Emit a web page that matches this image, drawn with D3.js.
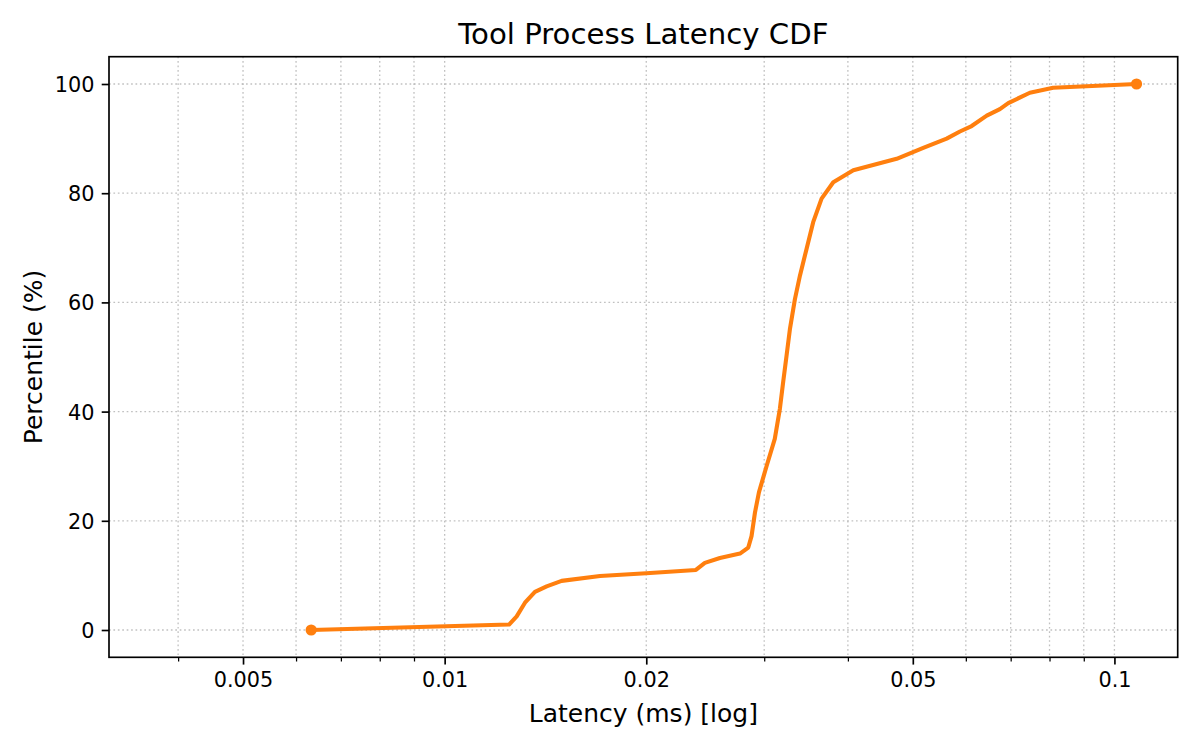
<!DOCTYPE html>
<html>
<head>
<meta charset="utf-8">
<script src="https://cdn.jsdelivr.net/npm/d3@7"></script>
<style>
  html, body { margin: 0; padding: 0; background: #ffffff; }
  svg { display: block; font-family: "DejaVu Sans", sans-serif; }
</style>
</head>
<body>
<svg id="chart" width="1200" height="750"></svg>
<script>
// ---- data ----
const latencyMs = [0.00632, 0.01248, 0.01281, 0.01318, 0.01364, 0.0142, 0.01495, 0.01706, 0.0200,
  0.02372, 0.02446, 0.02576, 0.0276, 0.0284, 0.02872, 0.02906, 0.02946, 0.03024, 0.03111,
  0.03166, 0.03202, 0.03239, 0.03277, 0.03334, 0.03392, 0.0347, 0.0355, 0.03654, 0.03804,
  0.04075, 0.0473, 0.05183, 0.05617, 0.05879, 0.06121, 0.06447, 0.06745, 0.06942, 0.07477,
  0.081, 0.1079];
const percentile = [0, 1, 2.5, 5, 7, 8, 9, 9.9, 10.4,
  11, 12.3, 13.2, 14, 15.1, 17.2, 21.5, 25.2, 30, 35,
  40.5, 45.4, 50.2, 55.1, 60.6, 64.9, 69.8, 74.7, 79, 82,
  84.2, 86.3, 88.3, 90, 91.3, 92.3, 94.2, 95.4, 96.5, 98.4,
  99.3, 100];
const xMajorTicks = [0.005, 0.01, 0.02, 0.05, 0.1];
const xMajorLabels = ["0.005", "0.01", "0.02", "0.05", "0.1"];
const xMinorTicks = [0.004, 0.006, 0.007, 0.008, 0.009, 0.03, 0.04, 0.06, 0.07, 0.08, 0.09];
const yTicks = [0, 20, 40, 60, 80, 100];
const titleText = "Tool Process Latency CDF";
const xLabelText = "Latency (ms) [log]";
const yLabelText = "Percentile (%)";

// ---- layout ----
const L = 109, R = 1177.7, T = 56.7, B = 657.3;
const svg = d3.select("#chart");

const x = d3.scaleLog().domain([0.003154, 0.1243]).range([L, R]);
const y = d3.scaleLinear().domain([-5, 105]).range([B, T]);

const gridColor = "#b0b0b0";
const grid = svg.append("g").attr("class", "grid")
  .attr("stroke", gridColor).attr("stroke-opacity", 0.8)
  .attr("stroke-width", 1.3).attr("stroke-dasharray", "1.67,2.75");

grid.selectAll("line.gx").data(xMajorTicks.concat(xMinorTicks)).join("line")
  .attr("class", "gx")
  .attr("x1", d => x(d)).attr("x2", d => x(d))
  .attr("y1", T).attr("y2", B);
grid.selectAll("line.gy").data(yTicks).join("line")
  .attr("class", "gy")
  .attr("x1", L).attr("x2", R)
  .attr("y1", d => y(d)).attr("y2", d => y(d));

// ---- axes ----
const xAxis = d3.axisBottom(x)
  .tickValues(xMajorTicks)
  .tickFormat((d, i) => xMajorLabels[i])
  .tickSize(7.3).tickSizeOuter(0).tickPadding(7.3);
const gx = svg.append("g").attr("transform", `translate(0,${B})`).call(xAxis);
gx.select(".domain").remove();
gx.selectAll(".tick line").attr("stroke", "#000").attr("stroke-width", 1.67);
gx.selectAll(".tick text").attr("fill", "#000").attr("font-size", 20.8)
  .attr("font-family", "DejaVu Sans").attr("dy", "0.72em");

const xMinorAxis = d3.axisBottom(x).tickValues(xMinorTicks).tickFormat("")
  .tickSize(4.2).tickSizeOuter(0);
const gxm = svg.append("g").attr("transform", `translate(0,${B})`).call(xMinorAxis);
gxm.select(".domain").remove();
gxm.selectAll(".tick line").attr("stroke", "#000").attr("stroke-width", 1.25);

const yAxis = d3.axisLeft(y).tickValues(yTicks).tickFormat(d3.format("d"))
  .tickSize(7.3).tickSizeOuter(0).tickPadding(7.3);
const gy = svg.append("g").attr("transform", `translate(${L},0)`).call(yAxis);
gy.select(".domain").remove();
gy.selectAll(".tick line").attr("stroke", "#000").attr("stroke-width", 1.67);
gy.selectAll(".tick text").attr("fill", "#000").attr("font-size", 20.8)
  .attr("font-family", "DejaVu Sans").attr("dy", "0.36em");

// ---- line ----
const pts = latencyMs.map((v, i) => [v, percentile[i]]);
const line = d3.line().x(d => x(d[0])).y(d => y(d[1]));
svg.append("path").datum(pts)
  .attr("d", line)
  .attr("fill", "none")
  .attr("stroke", "#ff7f0e")
  .attr("stroke-width", 4.1)
  .attr("stroke-linejoin", "round");

const ends = [pts[0], pts[pts.length - 1]];
svg.selectAll("circle.end").data(ends).join("circle")
  .attr("class", "end")
  .attr("cx", d => x(d[0])).attr("cy", d => y(d[1]))
  .attr("r", 5.6).attr("fill", "#ff7f0e");

// ---- frame ----
svg.append("rect").attr("x", L).attr("y", T)
  .attr("width", R - L).attr("height", B - T)
  .attr("fill", "none").attr("stroke", "#000").attr("stroke-width", 1.67);

// ---- text ----
svg.append("text").attr("x", (L + R) / 2).attr("y", 44)
  .attr("text-anchor", "middle").attr("font-size", 29.2).attr("fill", "#000")
  .text(titleText);
svg.append("text").attr("x", (L + R) / 2).attr("y", 722)
  .attr("text-anchor", "middle").attr("font-size", 25).attr("fill", "#000")
  .text(xLabelText);
svg.append("text")
  .attr("transform", `translate(42,${(T + B) / 2}) rotate(-90)`)
  .attr("text-anchor", "middle").attr("font-size", 25).attr("fill", "#000")
  .text(yLabelText);
</script>
</body>
</html>
